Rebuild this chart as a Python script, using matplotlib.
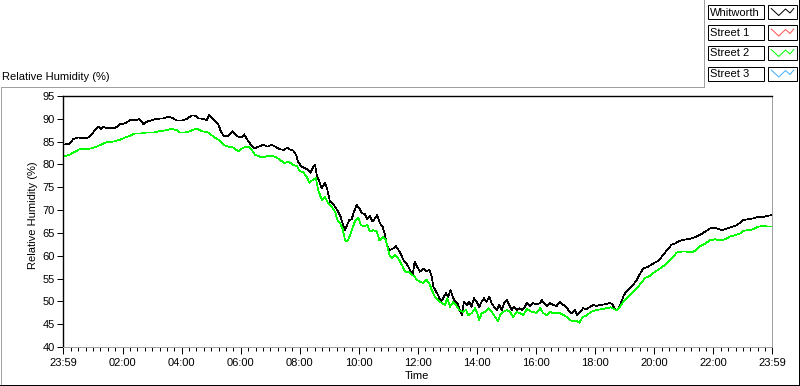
import numpy as np
import matplotlib
matplotlib.use("Agg")
import matplotlib.pyplot as plt
from matplotlib.lines import Line2D
from matplotlib.patches import Rectangle

# ---------------- data ----------------
series_names = ["Whitworth", "Street 1", "Street 2", "Street 3"]
series_colors = ["#000000", "#ff5050", "#00ff00", "#40b0ff"]

x_tick_labels = ["23:59", "02:00", "04:00", "06:00", "08:00", "10:00",
                 "12:00", "14:00", "16:00", "18:00", "20:00", "22:00", "23:59"]
y_ticks = [40, 45, 50, 55, 60, 65, 70, 75, 80, 85, 90, 95]

# hours elapsed since 23:59 (start of axis)
whitworth_t = [0.00, 0.24, 0.35, 0.52, 0.69, 0.86, 0.97, 1.08, 1.19, 1.28, 1.36, 1.48, 1.59, 1.76, 1.91,
               2.10, 2.27, 2.44, 2.58, 2.66, 2.72, 2.85, 3.00, 3.17, 3.40, 3.56, 3.73, 3.85, 4.02, 4.19,
               4.36, 4.47, 4.58, 4.75, 4.86, 4.95, 5.05, 5.15, 5.26, 5.34, 5.43, 5.54, 5.65, 5.74, 5.82,
               5.93, 6.05, 6.13, 6.22, 6.33, 6.42, 6.50, 6.61, 6.78, 6.92, 7.06, 7.21, 7.35, 7.48, 7.59,
               7.68, 7.80, 7.89, 7.96, 8.08, 8.19, 8.30, 8.38, 8.47, 8.53, 8.59, 8.68, 8.76, 8.87, 8.95,
               9.04, 9.13, 9.24, 9.32, 9.40, 9.49, 9.55, 9.60, 9.69, 9.77, 9.85, 9.94, 10.03, 10.11, 10.22,
               10.30, 10.39, 10.48, 10.56, 10.64, 10.73, 10.82, 10.90, 10.98, 11.07, 11.18, 11.27, 11.35,
               11.43, 11.52, 11.61, 11.69, 11.77, 11.84, 11.90, 11.99, 12.08, 12.20, 12.31, 12.40, 12.48,
               12.54, 12.63, 12.70, 12.79, 12.87, 12.96, 13.04, 13.12, 13.19, 13.27, 13.35, 13.41, 13.50,
               13.57, 13.67, 13.75, 13.83, 13.91, 14.00, 14.09, 14.17, 14.25, 14.34, 14.43, 14.51, 14.59,
               14.68, 14.77, 14.85, 14.93, 15.02, 15.11, 15.19, 15.27, 15.36, 15.45, 15.53, 15.61, 15.70,
               15.81, 15.92, 16.03, 16.15, 16.20, 16.28, 16.37, 16.48, 16.60, 16.71, 16.82, 16.94, 17.05,
               17.14, 17.22, 17.33, 17.41, 17.50, 17.61, 17.73, 17.84, 17.95, 18.07, 18.18, 18.29, 18.40,
               18.52, 18.61, 18.68, 18.76, 18.83, 18.91, 18.99, 19.08, 19.19, 19.30, 19.42, 19.53, 19.64,
               19.81, 19.98, 20.15, 20.27, 20.38, 20.49, 20.60, 20.72, 20.83, 20.94, 21.11, 21.28, 21.45,
               21.62, 21.79, 21.96, 22.13, 22.30, 22.41, 22.58, 22.75, 22.89, 23.03, 23.20, 23.37, 23.54,
               23.65, 23.82, 23.99]
whitworth_rh = [84.3, 84.6, 85.6, 85.9, 85.7, 85.9, 86.6, 87.5, 88.3, 87.7, 88.3, 87.9, 88.1, 87.9, 88.8,
                89.0, 89.7, 89.7, 89.9, 89.5, 88.8, 89.4, 89.7, 90.0, 90.1, 90.5, 90.1, 89.6, 89.6, 90.0,
                90.7, 90.7, 90.1, 90.0, 89.7, 90.8, 90.1, 89.5, 88.8, 87.3, 86.3, 86.1, 86.6, 87.3, 86.6,
                86.1, 85.9, 86.6, 85.6, 84.6, 83.9, 83.5, 83.9, 84.3, 83.9, 84.3, 83.8, 83.3, 83.2, 83.7,
                83.3, 83.0, 82.1, 80.5, 79.5, 79.2, 78.8, 78.2, 79.5, 79.9, 77.7, 76.2, 74.8, 76.0, 74.4,
                71.8, 71.5, 70.4, 69.6, 68.5, 66.5, 65.6, 66.5, 67.8, 68.0, 69.6, 71.1, 70.4, 69.4, 69.1,
                68.0, 68.7, 67.5, 68.2, 68.9, 67.1, 66.4, 64.5, 62.0, 61.3, 61.6, 62.1, 61.3,
                60.5, 59.1, 58.5, 57.6, 56.5, 55.8, 58.7, 57.6, 56.5, 57.2, 56.5, 57.0, 55.4,
                53.2, 52.1, 51.4, 49.9, 50.7, 51.8, 51.0, 52.5, 51.0, 49.9, 49.6, 48.5, 47.0,
                49.9, 49.2, 49.9, 48.8, 50.7, 49.9, 48.8, 49.9, 50.7, 49.9, 51.0, 49.6, 48.8,
                48.1, 49.2, 48.1, 49.6, 50.3, 49.2, 48.1, 48.8, 48.1, 48.5, 48.1, 48.5, 49.6,
                49.0, 49.6, 49.3, 49.6, 50.3, 49.6, 49.0, 49.6, 49.2, 49.0, 49.9, 49.2, 48.7,
                47.7, 47.4, 48.1, 47.0, 47.7, 48.5, 48.3, 48.8, 49.2, 49.0, 49.2, 49.3, 49.4,
                49.7, 49.2, 48.3, 48.1, 48.8, 50.1, 51.4, 52.3, 52.9, 53.6, 54.7, 56.0, 57.2,
                57.6, 58.3, 58.9, 59.8, 60.7, 61.6, 62.4, 62.7, 63.1, 63.4, 63.6, 63.8, 64.2,
                64.8, 65.5, 66.2, 66.0, 65.6, 65.8, 66.2, 66.5, 67.1, 67.8, 68.0, 68.2, 68.5,
                68.4, 68.7, 68.9]

street2_t = [0.00, 0.24, 0.41, 0.58, 0.80, 0.97, 1.14, 1.31, 1.48, 1.70, 1.93, 2.10, 2.27, 2.44, 2.66,
             2.83, 3.06, 3.28, 3.51, 3.68, 3.85, 3.96, 4.13, 4.30, 4.53, 4.69, 4.92, 5.09, 5.26, 5.43,
             5.60, 5.76, 5.93, 6.10, 6.27, 6.39, 6.50, 6.67, 6.84, 7.01, 7.18, 7.35, 7.48, 7.63, 7.80,
             7.93, 8.00, 8.13, 8.25, 8.34, 8.45, 8.56, 8.64, 8.76, 8.87, 8.95, 9.10, 9.21, 9.29, 9.38,
             9.47, 9.55, 9.62, 9.72, 9.81, 9.88, 10.00, 10.08, 10.19, 10.30, 10.39, 10.50, 10.62, 10.71,
             10.82, 10.93, 11.05, 11.13, 11.24, 11.35, 11.47, 11.58, 11.69, 11.81, 11.89, 11.98, 12.08,
             12.20, 12.29, 12.40, 12.48, 12.59, 12.70, 12.82, 12.93, 13.01, 13.10, 13.21, 13.30, 13.41,
             13.53, 13.64, 13.72, 13.83, 13.95, 14.02, 14.09, 14.17, 14.29, 14.40, 14.51, 14.63, 14.72,
             14.80, 14.91, 15.02, 15.13, 15.24, 15.36, 15.47, 15.58, 15.70, 15.87, 16.03, 16.15, 16.26,
             16.37, 16.48, 16.60, 16.71, 16.82, 16.94, 17.05, 17.16, 17.27, 17.39, 17.48, 17.59, 17.70,
             17.82, 17.93, 18.07, 18.24, 18.40, 18.54, 18.65, 18.74, 18.85, 18.97, 19.08, 19.19, 19.30,
             19.42, 19.53, 19.70, 19.87, 20.04, 20.21, 20.38, 20.55, 20.66, 20.77, 20.94, 21.11, 21.28,
             21.39, 21.54, 21.73, 21.90, 22.07, 22.24, 22.41, 22.58, 22.75, 22.92, 23.05, 23.20, 23.37,
             23.54, 23.71, 23.88, 23.99]
street2_rh = [81.7, 82.2, 82.8, 83.4, 83.4, 83.5, 83.9, 84.4, 84.9, 85.0, 85.4, 85.9, 86.3, 86.8, 86.8,
              87.0, 87.0, 87.3, 87.5, 87.8, 87.5, 87.0, 87.0, 87.3, 87.9, 87.3, 87.0, 86.1, 85.4, 84.3,
              83.9, 83.7, 82.9, 83.7, 83.9, 83.2, 82.1, 81.7, 81.7, 81.9, 81.7, 81.0, 80.3, 80.6, 79.9,
              79.6, 78.6, 78.3, 77.3, 76.0, 76.6, 77.0, 74.4, 72.2, 72.9, 71.8, 70.7, 69.6, 67.8, 67.1,
              65.8, 63.4, 63.1, 64.5, 66.2, 67.5, 68.4, 66.7, 66.5, 66.7, 65.3, 65.6, 65.3, 63.4,
              64.1, 63.4, 60.2, 59.4, 60.2, 59.4, 58.0, 56.5, 56.5, 55.8, 55.5, 54.7, 54.3,
              54.0, 54.8, 54.0, 52.5, 51.0, 50.3, 49.6, 49.2, 50.7, 48.8, 49.9, 49.2, 48.1,
              47.7, 48.1, 47.0, 47.4, 48.5, 47.4, 45.9, 47.4, 47.7, 48.5, 47.7, 46.6, 45.6,
              47.0, 47.7, 48.1, 47.7, 46.6, 47.7, 47.4, 47.0, 48.3, 47.7, 47.5, 48.5, 47.4,
              47.0, 47.7, 47.4, 47.5, 47.4, 47.0, 46.6, 45.9, 45.6, 45.8, 45.3, 46.6, 46.8,
              47.4, 47.9, 48.1, 48.3, 48.5, 48.7, 48.3, 48.1, 48.8, 49.9, 50.7, 51.4, 52.1,
              52.9, 53.7, 55.1, 55.6, 56.5, 57.2, 58.0, 59.1, 59.7, 60.7, 60.9, 60.9, 60.7,
              61.1, 62.0, 62.6, 63.4, 63.6, 63.4, 63.6, 64.2, 64.5, 64.9, 65.5, 65.6, 65.8,
              66.4, 66.5, 66.4, 66.4]

# ---------------- figure ----------------
plt.rcParams["font.family"] = ["Liberation Sans", "DejaVu Sans"]
plt.rcParams["font.size"] = 8

W, H = 800, 386
fig = plt.figure(figsize=(W / 100, H / 100), dpi=100)
fig.patch.set_facecolor("white")

def fx(px):
    return px / W

def fy(py):
    return 1 - py / H

GRAY = "#a0a0a0"
PX = 0.72  # one pixel line width in points at 100 dpi

# outer panel frame (sunken look)
fig.add_artist(Line2D([fx(0.5), fx(0.5)], [fy(385), fy(86.5)], color=GRAY, lw=PX))
fig.add_artist(Line2D([fx(0.5), fx(703.5)], [fy(86.5), fy(86.5)], color=GRAY, lw=PX))
fig.add_artist(Line2D([fx(703.5), fx(703.5)], [fy(86.5), fy(0)], color=GRAY, lw=PX))
fig.add_artist(Line2D([fx(0), fx(798.5)], [fy(384.5), fy(384.5)], color="black", lw=PX))
fig.add_artist(Line2D([fx(798.5), fx(798.5)], [fy(384.5), fy(0)], color="black", lw=PX))

# panel caption
fig.text(fx(2), fy(77), "Relative Humidity (%)", ha="left", va="center", fontsize=8)

# axes
ax = fig.add_axes([fx(63), fy(347), fx(772) - fx(63), fy(96) - fy(347)])
ax.set_xlim(0, 24)
ax.set_ylim(40, 95)

ax.plot(whitworth_t, whitworth_rh, color=series_colors[0], lw=0.5, antialiased=False)
ax.plot(street2_t, street2_rh, color=series_colors[2], lw=0.5, antialiased=False)

for s in ("top", "left"):
    ax.spines[s].set_color("black")
    ax.spines[s].set_linewidth(1.0)
for s in ("right", "bottom"):
    ax.spines[s].set_color(GRAY)
    ax.spines[s].set_linewidth(PX)

off = 1.0 / 60.0
major_pos = [0.0] + [h + off for h in range(2, 24, 2)] + [24.0]
minor_pos = [off + 0.25 * k for k in range(96)]
ax.set_xticks(major_pos)
ax.set_xticklabels(x_tick_labels)
ax.set_xticks(minor_pos, minor=True)
ax.set_yticks(y_ticks)
ax.set_yticklabels([str(v) for v in y_ticks])

ax.tick_params(axis="x", which="major", direction="out", length=5, width=PX, pad=3, labelsize=8, colors="black")
ax.tick_params(axis="x", which="minor", direction="out", length=3, width=PX, colors="black")
ax.tick_params(axis="y", which="major", direction="out", length=4, width=PX, pad=2, labelsize=8, colors="black")

fig.text(fx(33), fy(215), "Relative Humidity (%)", rotation=90, ha="center", va="center", fontsize=8)
fig.text(fx(417), fy(376), "Time", ha="center", va="center", fontsize=8)

# legend (plot legend in the top right corner)
row_top = [5, 25.5, 46, 66.5]
zig_x = [0.05, 0.35, 0.62, 0.80, 0.95]
zig_y = [0.85, 0.15, 0.80, 0.40, 0.85]
for name, col, top in zip(series_names, series_colors, row_top):
    h = 14
    # name box
    fig.add_artist(Rectangle((fx(708), fy(top + h)), fx(764) - fx(708), fy(top) - fy(top + h),
                             facecolor="white", edgecolor="black", lw=PX))
    fig.text(fx(710), fy(top + h / 2 + 0.5), name, ha="left", va="center", fontsize=8)
    # swatch box
    fig.add_artist(Rectangle((fx(768), fy(top + h)), fx(797) - fx(768), fy(top) - fy(top + h),
                             facecolor="white", edgecolor="black", lw=PX))
    xs = [fx(768 + 2 + zx * 25) for zx in zig_x]
    ys = [fy(top + h - 2 - zy * (h - 4)) for zy in zig_y]
    fig.add_artist(Line2D(xs, ys, color=col, lw=PX))

fig.savefig("out.png", dpi=100, facecolor="white")
